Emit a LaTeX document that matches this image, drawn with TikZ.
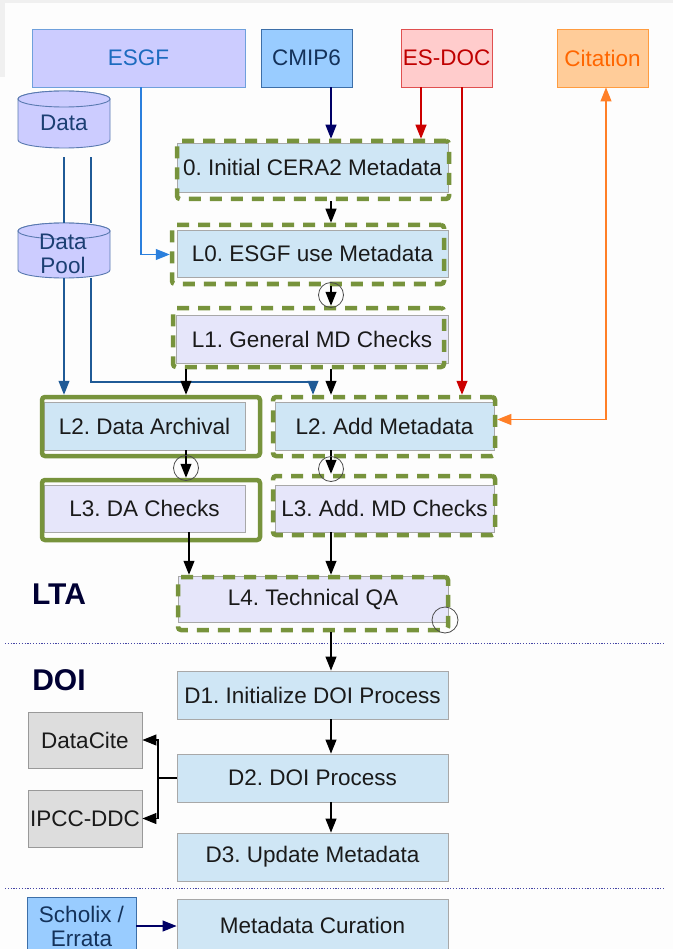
\documentclass[tikz,border=0pt]{standalone}
\usepackage{fontspec}
\setmainfont{Liberation Sans}
\usetikzlibrary{arrows.meta}
\frenchspacing
\definecolor{pagebg}{HTML}{FDFDFD}
\definecolor{greyband}{HTML}{F0F0F0}
\definecolor{lblue}{HTML}{CFE6F5}
\definecolor{lav}{HTML}{E6E6FA}
\definecolor{boxgrey}{HTML}{A8A8A8}
\definecolor{ggreen}{HTML}{77933C}
\definecolor{esgffill}{HTML}{CCCCFF}
\definecolor{esgfdraw}{HTML}{6FA0DC}
\definecolor{esgftext}{HTML}{1C6BBF}
\definecolor{cmipfill}{HTML}{99CCFF}
\definecolor{cmipdraw}{HTML}{3D6FA8}
\definecolor{cmiptext}{HTML}{14325A}
\definecolor{esdocfill}{HTML}{FFCCCC}
\definecolor{esdocdraw}{HTML}{E05050}
\definecolor{esdoctext}{HTML}{C00000}
\definecolor{citfill}{HTML}{FFCC99}
\definecolor{citdraw}{HTML}{FF9C40}
\definecolor{cittext}{HTML}{FF6600}
\definecolor{cyldraw}{HTML}{5A7AB0}
\definecolor{cyltext}{HTML}{1C3F73}
\definecolor{greyfill}{HTML}{DDDDDD}
\definecolor{greydraw}{HTML}{999999}
\definecolor{navyline}{HTML}{000066}
\definecolor{redline}{HTML}{CC0000}
\definecolor{esgfline}{HTML}{2A7FDD}
\definecolor{dataline}{HTML}{1F5A96}
\definecolor{orangeline}{HTML}{FF7F27}
\definecolor{sectext}{HTML}{000033}
\definecolor{dotline}{HTML}{4545A5}
\definecolor{txt}{HTML}{1A1A1A}
\newcommand\cylshape[4]{%
  \draw[cylst] (#1-#4,#2+8) -- (#1-#4,#3-8)
    arc[start angle=180,end angle=360,x radius=#4pt,y radius=8pt]
    -- (#1+#4,#2+8)
    arc[start angle=0,end angle=180,x radius=#4pt,y radius=8pt] -- cycle;
  \draw[cylst] (#1,#2+8) ellipse[x radius=#4pt,y radius=8pt];}
\begin{document}
\begin{tikzpicture}[x=1pt,y=-1pt,
  font=\fontsize{22.5}{24}\selectfont,
  every node/.style={inner sep=0pt, text=txt},
  bluebox/.style={draw=boxgrey, line width=0.9pt, fill=lblue},
  lavbox/.style={draw=boxgrey, line width=0.9pt, fill=lav},
  gdash/.style={draw=ggreen, line width=4.5pt, dash pattern=on 12pt off 9pt, rounded corners=3pt},
  gsolid/.style={draw=ggreen, line width=4.5pt, rounded corners=3pt},
  cylst/.style={draw=cyldraw, line width=0.9pt, fill=esgffill},
  greybox/.style={draw=greydraw, line width=0.9pt, fill=greyfill},
  arr/.style={line width=1.1pt, -{Triangle[length=14pt,width=11pt]}},
  loopc/.style={circle, draw=black!70, line width=0.8pt, minimum size=#1},
  sect/.style={font=\fontsize{30}{32}\selectfont\bfseries, text=sectext},
  dotsep/.style={draw=dotline, line width=0.9pt, dash pattern=on 1.2pt off 1.6pt}
]
\useasboundingbox (0,0) rectangle (673,949);
\fill[pagebg] (0,0) rectangle (673,949);
\fill[greyband] (0,0) rectangle (673,3);
\fill[greyband] (0,0) rectangle (5,77);

% x positions of the vertical flows
\coordinate (axis) at (331,0);
\coordinate (xl) at (186,0);
\coordinate (xl2) at (189,0);
\coordinate (xesgf) at (141,0);
\coordinate (xes1) at (421,0);
\coordinate (xes2) at (462,0);
\coordinate (xcit) at (606,0);

% cylinders
\cylshape{64}{91}{148}{46}
\cylshape{64}{223}{278}{46}
\node[minimum width=92pt, minimum height=57pt] (data) at (64,119.5) {};
\node[text=cyltext] (datatxt) at (64,123) {Data};
\node[minimum width=92pt, minimum height=55pt] (dpool) at (64,250.5) {};
\node[text=cyltext, align=center] (dpooltxt) at (63,254) {Data\\Pool};

% top sources
\node[draw=esgfdraw, line width=0.9pt, fill=esgffill, minimum width=213pt, minimum height=58pt, text=esgftext] (esgf) at (138.5,58) {ESGF};
\node[draw=cmipdraw, line width=0.9pt, fill=cmipfill, minimum width=91pt, minimum height=58pt, text=cmiptext] (cmip) at (306.5,58) {CMIP6};
\node[draw=esdocdraw, line width=0.9pt, fill=esdocfill, minimum width=91pt, minimum height=58pt, text=esdoctext] (esdoc) at (446.5,58) {ES-DOC};
\node[draw=citdraw, line width=0.9pt, fill=citfill, minimum width=91pt, minimum height=58pt, text=cittext] (cit) at (602.5,58) {Citation};

% LTA boxes
\node[bluebox, minimum width=271pt, minimum height=49pt] (b0) at (312.5,167.5) {0. Initial CERA2 Metadata};
\node[gdash, minimum width=272pt, minimum height=58pt] (b0f) at (313,170) {};
\node[bluebox, minimum width=271pt, minimum height=47pt] (l0) at (312.5,253.5) {L0. ESGF use Metadata};
\node[gdash, minimum width=272pt, minimum height=59pt] (l0f) at (308,254.5) {};
\node[lavbox, minimum width=272pt, minimum height=48pt] (l1) at (312,339) {L1. General MD Checks};
\node[gdash, minimum width=271pt, minimum height=59pt] (l1f) at (308.5,337.5) {};
\node[bluebox, minimum width=201pt, minimum height=48pt] (l2da) at (144.5,426) {L2. Data Archival};
\node[gsolid, minimum width=218pt, minimum height=59pt] (l2daf) at (151,426.5) {};
\node[bluebox, minimum width=219pt, minimum height=48pt] (l2am) at (384.5,426) {L2. Add Metadata};
\node[gdash, minimum width=222pt, minimum height=59pt] (l2amf) at (384,426.5) {};
\node[lavbox, minimum width=201pt, minimum height=47pt] (l3da) at (144.5,508.5) {L3. DA Checks};
\node[gsolid, minimum width=218pt, minimum height=60pt] (l3daf) at (151,510) {};
\node[lavbox, minimum width=219pt, minimum height=47pt] (l3am) at (384.5,508.5) {L3. Add. MD Checks};
\node[gdash, minimum width=222pt, minimum height=59pt] (l3amf) at (384,505.5) {};
\node[lavbox, minimum width=270pt, minimum height=46pt] (l4) at (313,599) {L4. Technical QA};
\node[gdash, minimum width=270pt, minimum height=53pt] (l4f) at (313,603.5) {};

\node[sect] (lta) at (59,594) {LTA};
\node[sect] (doi) at (59,680) {DOI};

% DOI boxes
\node[bluebox, minimum width=271pt, minimum height=48pt] (d1) at (312.5,695) {D1. Initialize DOI Process};
\node[bluebox, minimum width=271pt, minimum height=48pt] (d2) at (312.5,778) {D2. DOI Process};
\node[bluebox, minimum width=271pt, minimum height=48pt] (d3) at (312.5,857) {D3. Update Metadata};
\node[greybox, minimum width=114pt, minimum height=56pt] (datacite) at (85,740) {DataCite};
\node[greybox, minimum width=114pt, minimum height=57pt] (ipcc) at (85,818.5) {IPCC-DDC};
\node[bluebox, minimum width=271pt, minimum height=52pt] (mc) at (312.5,925) {Metadata Curation};
\node[draw=cmipdraw, line width=0.9pt, fill=cmipfill, minimum width=109pt, minimum height=58pt, text=cmiptext, align=center] (scholix) at (81.5,926) {Scholix /\\Errata};

% separators
\draw[dotsep] (5,643) -- (665,643);
\draw[dotsep] (5,888) -- (665,888);

% connectors: sources
\draw[arr, navyline] (cmip.south -| axis) -- (b0f.north -| axis);
\draw[arr, redline] (esdoc.south -| xes1) -- (b0f.north -| xes1);
\draw[arr, redline] (esdoc.south -| xes2) -- (l2amf.north -| xes2);
\draw[arr, esgfline] (esgf.south -| xesgf) |- (l0f.west);
\draw[line width=1.1pt, orangeline, {Triangle[length=14pt,width=11pt]}-{Triangle[length=14pt,width=11pt]}] ([yshift=7pt]l2amf.east) -| (cit.south -| xcit);

% data lines
\draw[dataline, line width=1.1pt] ([yshift=-9pt]data.south) -- (dpool.north);
\draw[dataline, line width=1.1pt] ([xshift=27pt,yshift=-9pt]data.south) -- ([xshift=27pt]dpool.north);
\draw[arr, dataline] (dpool.south) -- (dpool.south |- l2daf.north);
\coordinate (bend) at (313,382);
\draw[arr, dataline] ([xshift=27pt]dpool.south) |- (bend) -- (bend |- l2amf.north);

% main flow
\draw[arr] (b0f.south -| axis) -- (l0f.north -| axis);
\draw[arr] (l0f.south -| axis) -- (l1f.north -| axis);
\node[loopc=25pt] (c1) at (331,295) {};
\draw[arr] (l1f.south -| xl) -- (l2daf.north -| xl);
\draw[arr] (l1f.south -| axis) -- (l2amf.north -| axis);
\draw[arr] (l2da.south -| xl) -- (l3daf.north -| xl);
\node[loopc=25pt] (c2) at (186,468) {};
\draw[arr] (l2am.south -| axis) -- (l3amf.north -| axis);
\node[loopc=25pt] (c3) at (331,469) {};
\draw[arr] (l3da.south -| xl2) -- (l4f.north -| xl2);
\draw[arr] (l3am.south -| axis) -- (l4f.north -| axis);
\node[loopc=26pt] (c4) at (445,620) {};
\draw[arr] (l4f.south -| axis) -- (d1.north -| axis);
\draw[arr] (d1.south -| axis) -- (d2.north -| axis);
\draw[arr] (d2.south -| axis) -- (d3.north -| axis);

% DOI registration bracket
\coordinate (br) at (158,778);
\draw[line width=1.1pt] (d2.west) -- (br);
\draw[arr] (br) |- (datacite.east);
\draw[arr] (br) |- (ipcc.east);
\draw[arr, navyline] (scholix.east) -- (scholix.east -| mc.west);
\end{tikzpicture}
\end{document}
